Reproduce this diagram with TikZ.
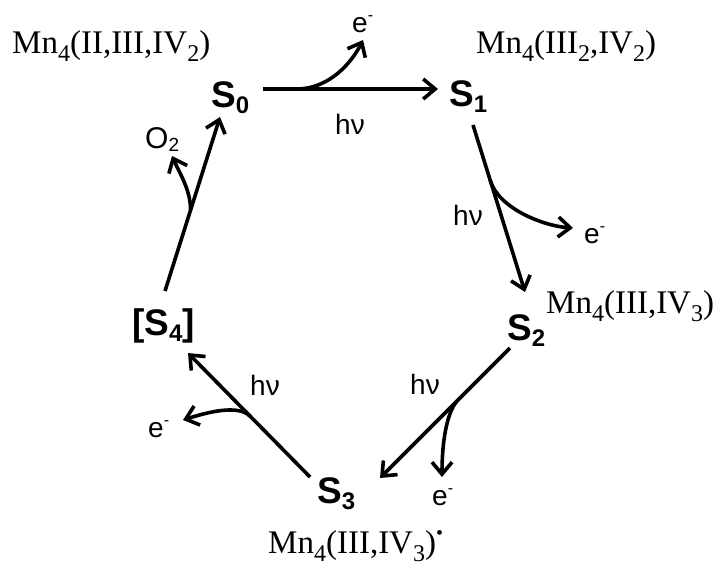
\documentclass[tikz,border=0pt]{standalone}
\usepackage{fontspec}
\setmainfont{Liberation Serif}
\setsansfont{Liberation Sans}
\usetikzlibrary{arrows.meta}
\newcommand{\SL}[1]{S\raisebox{-6pt}{\fontsize{24}{24}\selectfont #1}}
\newcommand{\msub}[1]{\raisebox{-8pt}{\fontsize{24}{24}\selectfont #1}}
\newcommand{\elec}{e\raisebox{12pt}{\fontsize{16}{16}\selectfont -}}
\begin{document}
\begin{tikzpicture}[x=1pt,y=-1pt,
  st/.style={inner sep=0pt, anchor=base west, font=\sffamily\bfseries\fontsize{37}{37}\selectfont},
  mn/.style={inner sep=0pt, anchor=base west, font=\rmfamily\fontsize{33}{33}\selectfont},
  lb/.style={inner sep=0pt, anchor=base west, font=\sffamily\fontsize{28}{28}\selectfont},
  arr/.style={line width=3.6pt, -{Straight Barb[length=12pt,width=20pt]}}]
\useasboundingbox (0,0) rectangle (725,566);
% states
\node[st] (s0) at (211,107) {\SL{0}};
\node[st] (s1) at (449,106) {\SL{1}};
\node[st] (s2) at (507,340) {\SL{2}};
\node[st] (s3) at (317,503) {\SL{3}};
\node[st] (s4) at (132,335) {[\SL{4}]};
% Mn labels
\node[mn] (m0) at (12,53) {Mn\msub{4}(II,III,IV\msub{2})};
\node[mn] (m1) at (476,53) {Mn\msub{4}(III\msub{2},IV\msub{2})};
\node[mn] (m2) at (546,313) {Mn\msub{4}(III,IV\msub{3})};
\node[mn] (m3) at (268,553) {Mn\msub{4}(III,IV\msub{3})\raisebox{14pt}{\fontsize{20}{20}\selectfont\textbullet}};
% small labels
\node[lb] (e0) at (352,32) {\elec};
\node[lb] (e1) at (584,243) {\elec};
\node[lb] (e2) at (432,505) {\elec};
\node[lb] (e3) at (148,437) {\elec};
\node[lb] (h0) at (335,134) {hν};
\node[lb] (h1) at (453,225) {hν};
\node[lb] (h2) at (410,394) {hν};
\node[lb] (h3) at (250,395) {hν};
\node[lb,font=\sffamily\fontsize{30}{30}\selectfont] (o2) at (145,148) {O\raisebox{-3pt}{\fontsize{19}{19}\selectfont 2}};
% main arrows
\draw[arr] ([shift={(52,-18)}]s0.base west) -- coordinate[pos=0.19] (b0) ([shift={(-11,-17)}]s1.base west);
\draw[arr] ([shift={(24,19)}]s1.base west) -- coordinate[pos=0.33] (b1) ([shift={(18,-48)}]s2.base west);
\draw[arr] ([shift={(3,8)}]s2.base west) -- coordinate[pos=0.41] (b2) ([shift={(63,-25)}]s3.base west);
\draw[arr] ([shift={(-7,-26)}]s3.base west) -- coordinate[pos=0.49] (b3) ([shift={(56,18)}]s4.base west);
\draw[arr] ([shift={(33,-44)}]s4.base west) -- coordinate[pos=0.465] (b4) ([shift={(9,10)}]s0.base west);
% branches
\draw[arr] (b0) .. controls +(35,0) and +(-10,20) .. ([shift={(11,8)}]e0.base west);
\draw[arr] (b1) .. controls +(8,28) and +(-30,-2) .. ([shift={(-11,-15)}]e1.base west);
\draw[arr] (b2) .. controls +(-10,12) and +(0,-35) .. ([shift={(10,-28)}]e2.base west);
\draw[arr] (b3) .. controls +(-12,-12) and +(25,-8) .. ([shift={(35,-17)}]e3.base west);
\draw[arr] (b4) .. controls +(0,-20) and +(8,18) .. ([shift={(27,8)}]o2.base west);
\end{tikzpicture}
\end{document}
